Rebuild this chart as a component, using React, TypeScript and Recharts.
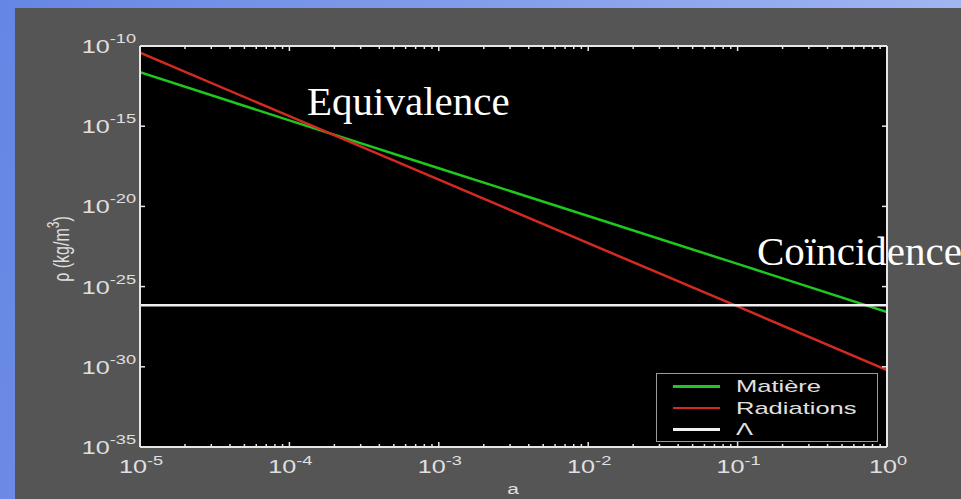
import React from "react";
import { ComposedChart, Line, XAxis, YAxis, CartesianGrid } from "recharts";

// Scale factor a (log axis) and densities in kg/m^3
const scaleFactors = [1e-5, 1e-4, 1e-3, 1e-2, 1e-1, 1];
const matterDensity = [2.3e-12, 2.3e-15, 2.4e-18, 2.5e-21, 2.6e-24, 2.6e-27];
const radiationDensity = [3.8e-11, 4.2e-15, 4.7e-19, 5.1e-23, 5.8e-27, 6.3e-31];
const lambdaDensity = [7e-27, 7e-27, 7e-27, 7e-27, 7e-27, 7e-27];

const xMajorTicks = [1e-5, 1e-4, 1e-3, 1e-2, 1e-1, 1];
const yMajorTicks = [1e-35, 1e-30, 1e-25, 1e-20, 1e-15, 1e-10];

const seriesInfo = [
  { key: "matiere", name: "Matière", color: "#1ec81e" },
  { key: "radiations", name: "Radiations", color: "#d42a22" },
  { key: "lambda", name: "Λ", color: "#f0f0f0" },
];

const annotations = [
  { text: "Equivalence", left: 307, baseline: 115 },
  { text: "Coïncidence", left: 757, baseline: 265 },
];

const data = scaleFactors.map((a, i) => ({
  a,
  matiere: matterDensity[i],
  radiations: radiationDensity[i],
  lambda: lambdaDensity[i],
}));

// Log minor ticks 2..9 within each decade
const xTicks: number[] = [];
xMajorTicks.forEach((m, i) => {
  xTicks.push(m);
  if (i < xMajorTicks.length - 1) {
    for (let k = 2; k <= 9; k++) xTicks.push(k * m);
  }
});

const AXIS = "#e6e6e6";
const TEXT = "#e0e0e0";
const SANS = "'Liberation Sans', Arial, Helvetica, sans-serif";
const SERIF = "'Liberation Serif', 'Times New Roman', serif";
// the figure's sans-serif text is set wide
const WIDE = 1.4;

const isMajor = (v: number) => {
  const l = Math.log10(v);
  return Math.abs(l - Math.round(l)) < 1e-6;
};
const expOf = (v: number) => Math.round(Math.log10(v));

const PowerLabel = ({ x, y, exp, anchor, rise }: any) => (
  <text
    transform={`translate(${x},${y}) scale(${WIDE},1)`}
    textAnchor={anchor}
    fill={TEXT}
    fontFamily={SANS}
  >
    <tspan fontSize={18}>10</tspan>
    <tspan fontSize={13} dy={-rise}>{exp}</tspan>
  </text>
);

const BottomTick = (props: any) => {
  const { x, y, payload } = props;
  const v = payload.value;
  const major = isMajor(v);
  return (
    <g>
      <line x1={x} y1={y} x2={x} y2={y - (major ? 5 : 3)} stroke={AXIS} strokeWidth={1.5} />
      {major && <PowerLabel x={x + 1} y={y + 26} exp={expOf(v)} anchor="middle" rise={8} />}
    </g>
  );
};

const TopTick = (props: any) => {
  const { x, y, payload } = props;
  const major = isMajor(payload.value);
  return <line x1={x} y1={y} x2={x} y2={y + (major ? 5 : 3)} stroke={AXIS} strokeWidth={1.5} />;
};

const LeftTick = (props: any) => {
  const { x, y, payload } = props;
  return (
    <g>
      <line x1={x} y1={y} x2={x + 5} y2={y} stroke={AXIS} strokeWidth={1.5} />
      <PowerLabel x={x - 4} y={y + 7} exp={expOf(payload.value)} anchor="end" rise={10} />
    </g>
  );
};

const RightTick = (props: any) => {
  const { x, y } = props;
  return <line x1={x} y1={y} x2={x - 5} y2={y} stroke={AXIS} strokeWidth={1.5} />;
};

export default function App() {
  return (
    <div
      style={{
        position: "fixed",
        left: 0,
        top: 0,
        width: 961,
        height: 499,
        overflow: "hidden",
        background: "linear-gradient(100deg, #6586e4 0%, #88a2ec 55%, #a6baf2 100%)",
      }}
    >
      <div
        style={{
          position: "absolute",
          left: 15,
          top: 8,
          right: 0,
          bottom: 0,
          background: "#555555",
        }}
      />
      <div style={{ position: "absolute", left: 0, top: 0 }}>
        <ComposedChart
          width={961}
          height={499}
          data={data}
          margin={{ top: 45, left: 139, right: 73, bottom: 51 }}
        >
          <CartesianGrid horizontal={false} vertical={false} fill="#000000" />
          <XAxis
            xAxisId="bottom"
            dataKey="a"
            type="number"
            scale="log"
            domain={[1e-5, 1]}
            ticks={xTicks}
            interval={0}
            height={1}
            tickSize={0}
            tickMargin={0}
            tickLine={false}
            axisLine={{ stroke: AXIS, strokeWidth: 2 }}
            tick={<BottomTick />}
            allowDataOverflow
          />
          <XAxis
            xAxisId="top"
            orientation="top"
            dataKey="a"
            type="number"
            scale="log"
            domain={[1e-5, 1]}
            ticks={xTicks}
            interval={0}
            height={1}
            tickSize={0}
            tickMargin={0}
            tickLine={false}
            axisLine={{ stroke: AXIS, strokeWidth: 2 }}
            tick={<TopTick />}
            allowDataOverflow
          />
          <YAxis
            yAxisId="left"
            type="number"
            scale="log"
            domain={[1e-35, 1e-10]}
            ticks={yMajorTicks}
            interval={0}
            width={1}
            tickSize={0}
            tickMargin={0}
            tickLine={false}
            axisLine={{ stroke: AXIS, strokeWidth: 2 }}
            tick={<LeftTick />}
            allowDataOverflow
          />
          <YAxis
            yAxisId="right"
            orientation="right"
            type="number"
            scale="log"
            domain={[1e-35, 1e-10]}
            ticks={yMajorTicks}
            interval={0}
            width={1}
            tickSize={0}
            tickMargin={0}
            tickLine={false}
            axisLine={{ stroke: AXIS, strokeWidth: 2 }}
            tick={<RightTick />}
            allowDataOverflow
          />
          {seriesInfo.map((s) => (
            <Line
              key={s.key}
              xAxisId="bottom"
              yAxisId="left"
              dataKey={s.key}
              name={s.name}
              type="linear"
              stroke={s.color}
              strokeWidth={2.5}
              dot={false}
              activeDot={false}
              isAnimationActive={false}
            />
          ))}
          <text
            transform={`translate(513,494) scale(${WIDE},1)`}
            textAnchor="middle"
            fill={TEXT}
            fontFamily={SANS}
            fontSize={15}
          >
            a
          </text>
          <text
            transform={`translate(69, 249) rotate(-90) scale(1,${WIDE})`}
            textAnchor="middle"
            fill={TEXT}
            fontFamily={SANS}
            fontSize={16}
          >
            <tspan>ρ (kg/m</tspan>
            <tspan fontSize={12} dy={-7}>3</tspan>
            <tspan dy={7}>)</tspan>
          </text>
          {annotations.map((t) => (
            <text
              key={t.text}
              x={t.left}
              y={t.baseline}
              fill="#ffffff"
              fontFamily={SERIF}
              fontSize={41}
            >
              {t.text}
            </text>
          ))}
        </ComposedChart>
      </div>
      <div
        style={{
          position: "absolute",
          left: 656,
          top: 373,
          width: 222,
          height: 69,
          boxSizing: "border-box",
          border: "1px solid #9a9a9a",
          background: "#000",
          fontFamily: SANS,
          fontSize: 17,
          color: TEXT,
        }}
      >
        {seriesInfo.map((s, i) => (
          <div
            key={s.key}
            style={{
              position: "absolute",
              left: 0,
              top: 2 + i * 21.5,
              height: 21,
              display: "flex",
              alignItems: "center",
              whiteSpace: "nowrap",
            }}
          >
            <div style={{ width: 47, height: 2.5, background: s.color, marginLeft: 16, marginRight: 16 }} />
            <span
              style={{
                lineHeight: "21px",
                display: "inline-block",
                transform: "scaleX(1.5)",
                transformOrigin: "left center",
              }}
            >
              {s.name}
            </span>
          </div>
        ))}
      </div>
    </div>
  );
}
